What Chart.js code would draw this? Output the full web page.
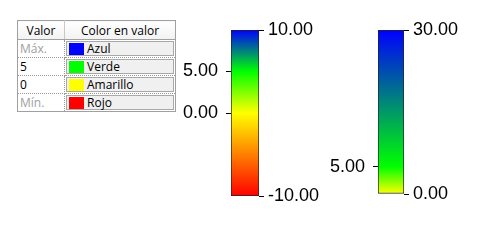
<!DOCTYPE html>
<html lang="es">
<head>
  <meta charset="UTF-8">
  <title>Escala de colores</title>
  <script src="https://cdn.jsdelivr.net/npm/chart.js"></script>
  <style>
    body {
      margin: 0;
      width: 501px;
      height: 245px;
      background: #fff;
      position: relative;
      overflow: hidden;
    }

    #legend-table {
      position: absolute;
      left: 17px;
      top: 20px;
      width: 159px;
      border-collapse: collapse;
      border: 1px solid #a0a0a0;
      font-family: "Open Sans", "Noto Sans", sans-serif;
      font-size: 12px;
      color: #000;
    }

    #legend-table th {
      height: 18px;
      padding: 0;
      font-weight: normal;
      text-align: center;
      background: linear-gradient(#ffffff, #f2f2f2);
      border-bottom: 1px solid #a0a0a0;
    }

    #legend-table th:first-child {
      width: 46px;
      border-right: 1px solid #c8c8c8;
    }

    #legend-table td {
      height: 17px;
      padding: 0;
      border-bottom: 1px dotted #9a9a9a;
    }

    #legend-table td.val {
      padding-left: 2px;
      border-right: 1px dotted #9a9a9a;
    }

    #legend-table td.val.muted {
      color: #a0a0a0;
    }

    .cell-box {
      margin: 1px;
      height: 13px;
      line-height: 13px;
      border: 1px solid #a8a8a8;
      background: #f0f0f0;
      display: flex;
      align-items: center;
    }

    .swatch {
      display: inline-block;
      width: 15px;
      height: 12px;
      margin: 0 3px 0 2px;
    }

    canvas {
      position: absolute;
      top: 0;
    }
  </style>
</head>
<body>

  <table id="legend-table">
    <thead>
      <tr><th>Valor</th><th>Color en valor</th></tr>
    </thead>
    <tbody></tbody>
  </table>

  <canvas id="bar1" width="160" height="245" style="left:175px"></canvas>
  <canvas id="bar2" width="171" height="245" style="left:330px"></canvas>

  <script>
    // table rows
    const tableValues = ['Máx.', '5', '0', 'Mín.'];
    const tableMuted = [true, false, false, true];
    const tableColorNames = ['Azul', 'Verde', 'Amarillo', 'Rojo'];
    const tableColors = ['#0000ff', '#00ff00', '#ffff00', '#ff0000'];

    // first color bar
    const range1 = [-10, 10];
    const stopValues1 = [-10, 0, 5, 10];
    const stopColors1 = ['#ff0000', '#ffff00', '#00ff00', '#0000ff'];
    const leftTicks1 = [0, 5];
    const rightTicks1 = [-10, 10];

    // second color bar
    const range2 = [0, 30];
    const stopValues2 = [0, 5, 30];
    const stopColors2 = ['#ffff00', '#00ff00', '#0000ff'];
    const leftTicks2 = [5];
    const rightTicks2 = [0, 30];

    function populateTable() {
      const body = document.querySelector('#legend-table tbody');
      tableValues.forEach((v, i) => {
        const row = body.insertRow();
        const c1 = row.insertCell(0);
        c1.className = 'val' + (tableMuted[i] ? ' muted' : '');
        c1.innerText = v;
        const c2 = row.insertCell(1);
        const box = document.createElement('div');
        box.className = 'cell-box';
        const sw = document.createElement('span');
        sw.className = 'swatch';
        sw.style.background = tableColors[i];
        box.appendChild(sw);
        box.appendChild(document.createTextNode(tableColorNames[i]));
        c2.appendChild(box);
      });
    }

    function tickAxis(position, values, width, pad) {
      return {
        position: position,
        grid: { drawOnChartArea: false, drawTicks: true, tickLength: 5, color: '#000', lineWidth: 1 },
        border: { display: false },
        ticks: {
          autoSkip: false,
          padding: pad,
          color: '#000',
          font: { family: 'Liberation Sans, Arial, sans-serif', size: 18 },
          callback: v => Number(v).toFixed(2)
        },
        afterBuildTicks: axis => { axis.ticks = values.map(v => ({ value: v })); },
        afterFit: axis => { axis.width = width; }
      };
    }

    function makeColorBar(id, range, stopValues, stopColors, leftTicks, rightTicks, leftW, rightW, padTop, padBottom) {
      const yL = tickAxis('left', leftTicks, leftW, 8);
      const yR = tickAxis('right', rightTicks, rightW, 4);
      yL.min = yR.min = range[0];
      yL.max = yR.max = range[1];

      new Chart(document.getElementById(id), {
        type: 'bar',
        data: {
          labels: [''],
          datasets: [{
            data: [range],
            yAxisID: 'yR',
            categoryPercentage: 1,
            barPercentage: 1,
            borderWidth: 1,
            borderColor: '#222',
            borderSkipped: false,
            backgroundColor: ctx => {
              const chart = ctx.chart;
              if (!chart.chartArea) return stopColors[0];
              const y = chart.scales.yR;
              const top = y.getPixelForValue(range[1]);
              const bottom = y.getPixelForValue(range[0]);
              const g = chart.ctx.createLinearGradient(0, bottom, 0, top);
              stopValues.forEach((v, i) => {
                g.addColorStop((v - range[0]) / (range[1] - range[0]), stopColors[i]);
              });
              return g;
            }
          }]
        },
        options: {
          responsive: false,
          animation: false,
          layout: { padding: { top: padTop, bottom: padBottom, left: 0, right: 0 } },
          plugins: { legend: { display: false }, tooltip: { enabled: false } },
          scales: {
            x: { display: false },
            yL: yL,
            yR: yR
          }
        }
      });
    }

    populateTable();
    makeColorBar('bar1', range1, stopValues1, stopColors1, leftTicks1, rightTicks1, 56, 76, 30, 49);
    makeColorBar('bar2', range2, stopValues2, stopColors2, leftTicks2, rightTicks2, 48, 97, 30, 51);
  </script>
</body>
</html>
